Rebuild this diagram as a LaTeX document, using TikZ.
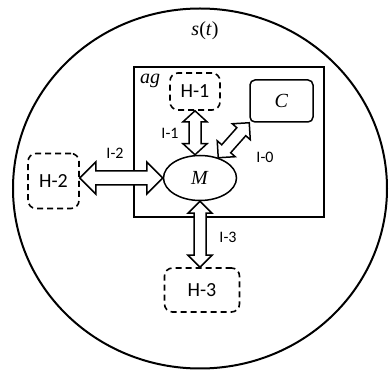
\documentclass[tikz,border=0pt]{standalone}
\usepackage{fontspec}
\setmainfont{Liberation Serif}
\newfontfamily\labfont{Carlito}
\usetikzlibrary{calc,shapes.geometric}
\newcommand\dblarr[5]{%
 \draw[arrowline] (#1) -- ($(#1)!#3!(#2)!#4!90:(#2)$) -- ($(#1)!#3!(#2)!#5!90:(#2)$)
  -- ($(#2)!#3!(#1)!#5!-90:(#1)$) -- ($(#2)!#3!(#1)!#4!-90:(#1)$) -- (#2)
  -- ($(#2)!#3!(#1)!#4!90:(#1)$) -- ($(#2)!#3!(#1)!#5!90:(#1)$)
  -- ($(#1)!#3!(#2)!#5!-90:(#2)$) -- ($(#1)!#3!(#2)!#4!-90:(#2)$) -- cycle;}
\tikzset{
 hbox/.style={draw, dash pattern=on 6pt off 4pt, line width=1.6pt, rounded corners=8pt, inner sep=0pt, font=\labfont\fontsize{20}{20}\selectfont},
 ilabel/.style={font=\labfont\fontsize{16}{16}\selectfont},
 arrowline/.style={line width=1.5pt, line join=miter, fill=white},
 mathlabel/.style={font=\fontsize{20}{20}\selectfont}
}
\begin{document}
\begin{tikzpicture}[x=1pt,y=-1pt]
\useasboundingbox (0,0) rectangle (389,371);
\draw[line width=2pt] (200,188.5) ellipse [x radius=187, y radius=180];
\node[mathlabel] (st) at (205,31) {\textit{s}(\textit{t})};
\node[draw, line width=1.7pt, minimum width=190pt, minimum height=150pt, inner sep=0pt] (agbox) at (229,142) {};
\node[mathlabel] (ag) at (150,81) {\textit{ag}};
\node[hbox, minimum width=50pt, minimum height=37pt] (h1) at (195,91.5) {H-1};
\node[hbox, minimum width=51pt, minimum height=55pt] (h2) at (53.5,181) {H-2};
\node[hbox, minimum width=75pt, minimum height=44pt] (h3) at (202,290) {H-3};
\node[draw, line width=1.5pt, rounded corners=5pt, minimum width=63pt, minimum height=42pt, inner sep=0pt, mathlabel] (c) at (281.5,101) {\textit{C}};
\node[draw, ellipse, line width=1.5pt, minimum width=73pt, minimum height=45pt, inner sep=0pt, mathlabel] (m) at (200,178) {\textit{M}};
\coordinate (i1a) at (h1.south);
\coordinate (i1b) at (h1.south |- m.north);
\dblarr{i1a}{i1b}{11pt}{12pt}{6pt}
\coordinate (i2a) at (h2.east |- m.west);
\dblarr{i2a}{m.west}{16pt}{16pt}{7pt}
\coordinate (i3b) at (m.south |- h3.north);
\dblarr{m.south}{i3b}{12pt}{12pt}{6pt}
\dblarr{m.48}{c.south west}{12pt}{12pt}{6pt}
\node[ilabel] (l1) at (170,133) {I-1};
\node[ilabel] (l0) at (265,157) {I-0};
\node[ilabel] (l2) at (115,153) {I-2};
\node[ilabel] (l3) at (228,237) {I-3};
\end{tikzpicture}
\end{document}
